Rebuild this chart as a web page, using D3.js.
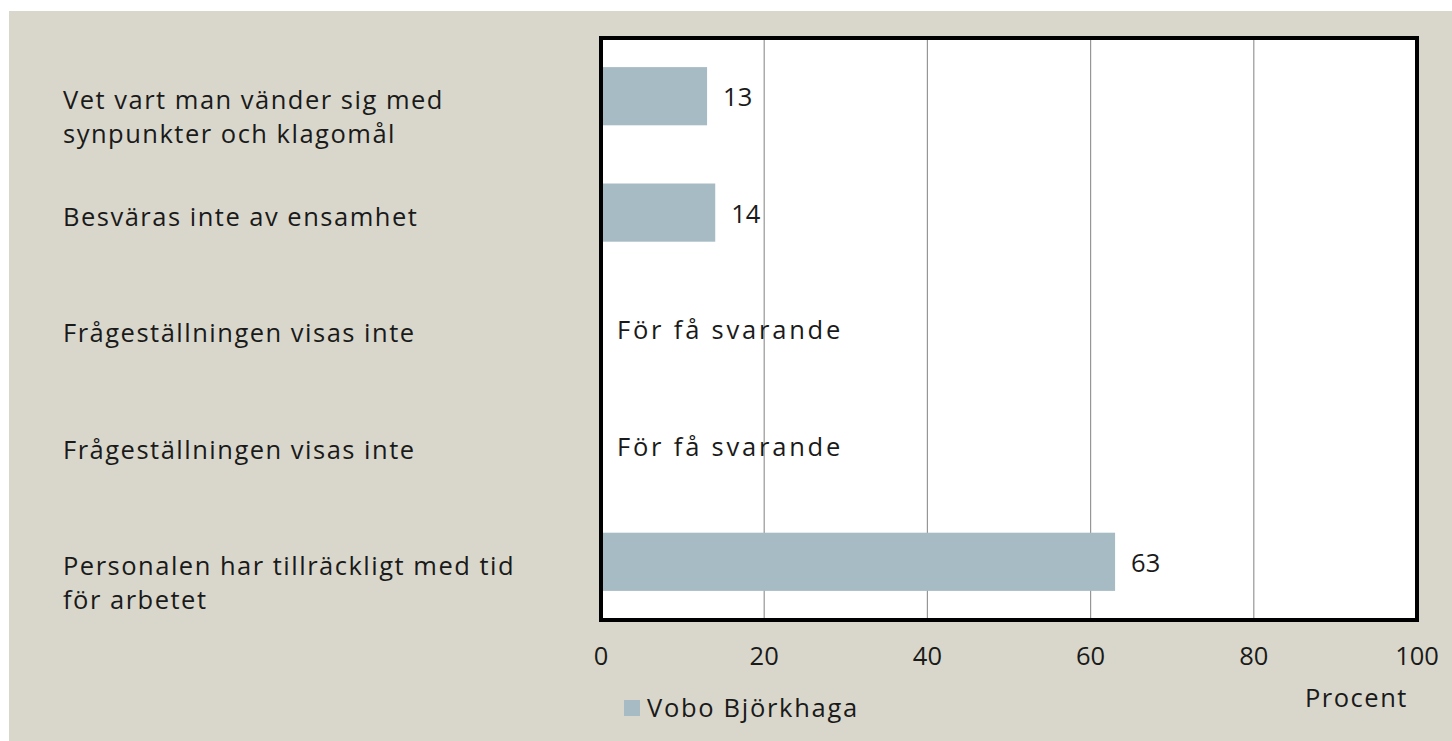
<!DOCTYPE html>
<html><head><meta charset="utf-8">
<script src="https://cdn.jsdelivr.net/npm/d3@7"></script>
<style>
html,body{margin:0;padding:0;background:#fff;}
svg{display:block;}
text{font-family:"Open Sans",sans-serif;fill:#1a1a1a;}
</style></head>
<body>
<svg id="chart" width="1452" height="741"></svg>
<script>
const categories = [
  "Vet vart man vänder sig med\nsynpunkter och klagomål",
  "Besväras inte av ensamhet",
  "Frågeställningen visas inte",
  "Frågeställningen visas inte",
  "Personalen har tillräckligt med tid\nför arbetet"
];
const values = [13, 14, null, null, 63];
const missingLabel = "För få svarande";
const seriesName = "Vobo Björkhaga";
const xTicks = [0, 20, 40, 60, 80, 100];
const axisTitle = "Procent";

(function () {
const W = 1452, H = 741;
const svg = d3.select("#chart");
const fs = 25.5;
const ls = 1.5;

svg.append("rect").attr("x", 9).attr("y", 11).attr("width", W - 9).attr("height", H - 11).attr("fill", "#d9d7cb");

const pL = 601, pR = 1417, pT = 38, pB = 620;
const x = d3.scaleLinear().domain([0, 100]).range([pL, pR]);
const y = d3.scaleBand().domain(d3.range(categories.length)).range([pT, pB]).paddingInner(0.5).paddingOuter(0.25);

svg.append("rect").attr("x", pL).attr("y", pT).attr("width", pR - pL).attr("height", pB - pT).attr("fill", "#fff");

// grid
svg.append("g").selectAll("line").data(xTicks.filter(t => t > 0 && t < 100)).join("line")
  .attr("x1", d => x(d)).attr("x2", d => x(d)).attr("y1", pT).attr("y2", pB)
  .attr("stroke", "#969696").attr("stroke-width", 1.2);

// bars
svg.append("g").selectAll("rect").data(values.map((v, i) => ({v, i})).filter(d => d.v != null)).join("rect")
  .attr("x", x(0)).attr("y", d => y(d.i)).attr("width", d => x(d.v) - x(0)).attr("height", y.bandwidth())
  .attr("fill", "#a7bbc5");

// value labels
svg.append("g").selectAll("text").data(values.map((v, i) => ({v, i}))).join("text")
  .attr("x", d => d.v != null ? x(d.v) + 16 : x(0) + 16)
  .attr("y", d => y(d.i) + y.bandwidth() / 2 + 1)
  .attr("dy", "0.36em")
  .attr("font-size", fs)
  .attr("letter-spacing", d => d.v != null ? 0 : 2.8)
  .text(d => d.v != null ? d.v : missingLabel);

// border
svg.append("rect").attr("x", pL).attr("y", pT).attr("width", pR - pL).attr("height", pB - pT)
  .attr("fill", "none").attr("stroke", "#000").attr("stroke-width", 4);

// category labels
const cl = svg.append("g");
categories.forEach((c, i) => {
  const t = cl.append("text").attr("x", 63).attr("y", y(i) + y.bandwidth() / 2 + 4)
    .attr("font-size", fs).attr("letter-spacing", ls);
  c.split("\n").forEach((line, j) => {
    t.append("tspan").attr("x", 63).attr("dy", j === 0 ? "0.36em" : 34).text(line);
  });
});

// x axis tick labels
svg.append("g").selectAll("text").data(xTicks).join("text")
  .attr("x", d => x(d)).attr("y", 656).attr("dy", "0.36em").attr("text-anchor", "middle")
  .attr("font-size", fs).text(d => d);

svg.append("text").attr("x", 1305).attr("y", 698).attr("dy", "0.36em")
  .attr("font-size", fs).attr("letter-spacing", ls).text(axisTitle);

// legend
svg.append("rect").attr("x", 624).attr("y", 700).attr("width", 16).attr("height", 16).attr("fill", "#a7bbc5");
svg.append("text").attr("x", 647).attr("y", 708).attr("dy", "0.36em").attr("font-size", fs)
  .attr("letter-spacing", 1.7).text(seriesName);
})();
</script>
</body></html>
